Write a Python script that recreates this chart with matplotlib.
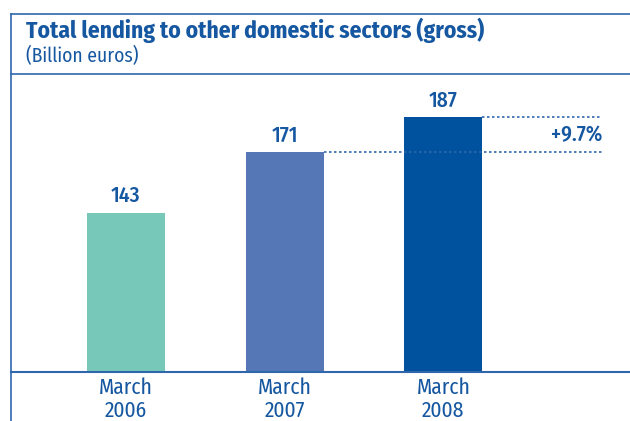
import matplotlib
matplotlib.use('Agg')
from matplotlib import pyplot as plt
from matplotlib.lines import Line2D

# data
periods = ['March\n2006', 'March\n2007', 'March\n2008']
values = [143, 171, 187]
bar_colors = ['#78c8b9', '#5577b5', '#00529f']
growth_label = '+9.7%'

TXT = '#1557a0'
FRAME = '#2f67ad'
plt.rcParams['font.family'] = ['Fira Sans Condensed', 'PT Sans Narrow',
                               'Roboto Condensed', 'Archivo Narrow', 'DejaVu Sans']

W, H = 630, 421
fig = plt.figure(figsize=(W / 100, H / 100), dpi=100)

def fx(px):
    return px / W

def fy(py):
    return 1 - py / H

# frame around header
fig.add_artist(Line2D([fx(11), fx(11)], [fy(14), fy(421)], color=FRAME, lw=1.2))
fig.add_artist(Line2D([fx(11), 1], [fy(14), fy(14)], color=FRAME, lw=1.2))
fig.add_artist(Line2D([fx(11), 1], [fy(74), fy(74)], color=FRAME, lw=1.2))

fig.text(fx(26), fy(38), 'Total lending to other domestic sectors (gross)',
         color=TXT, fontsize=16.9, fontweight='bold', va='baseline', ha='left')
fig.text(fx(26), fy(62), '(Billion euros)', color=TXT, fontsize=14,
         va='baseline', ha='left')

# plot area from header line to baseline
ax = fig.add_axes([fx(11), fy(372), fx(630) - fx(11), fy(74) - fy(372)])
x = list(range(len(values)))
ax.bar(x, values, width=0.49, color=bar_colors, zorder=2)
ax.set_xlim(-0.724, 3.176)
ax.set_ylim(69.4, 207.0)

for xi, v in zip(x, values):
    ax.text(xi, v + 2.7, str(v), ha='center', va='bottom', color=TXT,
            fontsize=15.5, fontweight='medium')

# dotted comparison lines
ax.hlines(values[1], x[1] + 0.245, 3.0, colors=FRAME, linestyles=(0, (1.5, 1.5)), lw=1.2)
ax.hlines(values[2], x[2] + 0.245, 3.0, colors=FRAME, linestyles=(0, (1.5, 1.5)), lw=1.2)
ax.text(3.0, (values[1] + values[2]) / 2, growth_label, ha='right', va='center',
        color=TXT, fontsize=15.5, fontweight='medium')

for s in ['top', 'right', 'left']:
    ax.spines[s].set_visible(False)
ax.spines['bottom'].set_color(FRAME)
ax.spines['bottom'].set_linewidth(1.5)
ax.set_yticks([])
ax.set_xticks(x)
ax.set_xticklabels(periods, color=TXT, fontsize=15.5, linespacing=1.05)
ax.tick_params(axis='x', length=0, pad=4)

fig.savefig('out.png', dpi=100)
